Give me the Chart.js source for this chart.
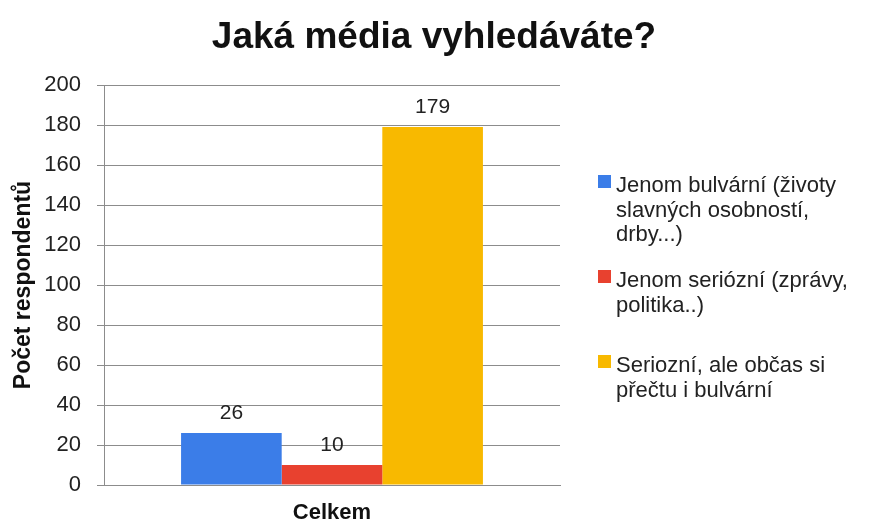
<!DOCTYPE html>
<html>
<head>
<meta charset="utf-8">
<script src="https://cdn.jsdelivr.net/npm/chart.js@4.4.1/dist/chart.umd.min.js"></script>
<style>
  html, body { margin: 0; padding: 0; background: #ffffff; }
  #wrap { width: 870px; height: 524px; }
</style>
</head>
<body>
<div id="wrap"><canvas id="c" width="870" height="524"></canvas></div>
<script>
// Survey answers: which kind of media the respondents look for
const chartTitle = 'Jaká média vyhledáváte?';
const categories = ['Celkem'];
const seriesNames = [
  ['Jenom bulvární (životy', 'slavných osobností,', 'drby...)'],
  ['Jenom seriózní (zprávy,', 'politika..)'],
  ['Seriozní, ale občas si', 'přečtu i bulvární']
];
const bulvarni = [26];
const seriozni = [10];
const oboji = [179];
const seriesColors = ['#3b7de8', '#e8412f', '#f8b900'];
const yTicks = [0, 20, 40, 60, 80, 100, 120, 140, 160, 180, 200];

const FONT = '"Liberation Sans", Arial, sans-serif';
const GRID = '#8c8c8c';
const TEXT = '#222222';

// Title centred over the whole canvas
const pageTitle = {
  id: 'pageTitle',
  afterDraw(chart) {
    const ctx = chart.ctx;
    ctx.save();
    ctx.font = 'bold 37px ' + FONT;
    ctx.fillStyle = '#111111';
    ctx.textAlign = 'center';
    ctx.textBaseline = 'alphabetic';
    ctx.fillText(chartTitle, 434, 48);
    ctx.restore();
  }
};

// Value printed above each bar
const valueLabels = {
  id: 'valueLabels',
  afterDatasetsDraw(chart) {
    const ctx = chart.ctx;
    ctx.save();
    ctx.font = '21px ' + FONT;
    ctx.fillStyle = TEXT;
    ctx.textAlign = 'center';
    ctx.textBaseline = 'alphabetic';
    chart.data.datasets.forEach((ds, i) => {
      chart.getDatasetMeta(i).data.forEach((bar, j) => {
        ctx.fillText(String(ds.data[j]), bar.x, bar.y - 14);
      });
    });
    ctx.restore();
  }
};

// Legend on the right with wrapped labels
const wrappedLegend = {
  id: 'wrappedLegend',
  afterDraw(chart) {
    const ctx = chart.ctx;
    const x0 = chart.chartArea.right + 38;
    const baselines = [192, 287, 372];
    const lineGap = 24.5;
    ctx.save();
    ctx.font = '22px ' + FONT;
    ctx.textBaseline = 'alphabetic';
    ctx.textAlign = 'left';
    chart.data.datasets.forEach((ds, i) => {
      const y = baselines[i];
      ctx.fillStyle = ds.backgroundColor;
      ctx.fillRect(x0, y - 17, 13, 13);
      ctx.fillStyle = TEXT;
      seriesNames[i].forEach((line, k) => {
        ctx.fillText(line, x0 + 18, y + k * lineGap);
      });
    });
    ctx.restore();
  }
};

new Chart(document.getElementById('c'), {
  type: 'bar',
  data: {
    labels: categories,
    datasets: [
      { label: seriesNames[0].join(' '), data: bulvarni, backgroundColor: seriesColors[0] },
      { label: seriesNames[1].join(' '), data: seriozni, backgroundColor: seriesColors[1] },
      { label: seriesNames[2].join(' '), data: oboji, backgroundColor: seriesColors[2] }
    ]
  },
  options: {
    responsive: false,
    animation: false,
    devicePixelRatio: 1,
    layout: { padding: { top: 85, left: 10, right: 310, bottom: 0 } },
    datasets: { bar: { categoryPercentage: 0.662, barPercentage: 1.0, borderWidth: 0 } },
    plugins: {
      legend: { display: false },
      tooltip: { enabled: false },
      title: { display: false }
    },
    scales: {
      x: {
        grid: { display: false, drawTicks: false },
        border: { display: true, color: GRID, width: 1 },
        ticks: {
          color: '#111111',
          padding: 15,
          font: { family: FONT, size: 22, weight: 'bold' }
        },
        afterFit(scale) { scale.height = 39; }
      },
      y: {
        min: 0,
        max: 200,
        afterBuildTicks(scale) { scale.ticks = yTicks.map(v => ({ value: v })); },
        grid: { color: GRID, lineWidth: 1, tickLength: 7, drawTicks: true, tickColor: GRID },
        border: { display: true, color: GRID, width: 1 },
        ticks: {
          color: TEXT,
          padding: 16,
          font: { family: FONT, size: 22 }
        },
        title: {
          display: true,
          text: 'Počet respondentů',
          color: '#111111',
          font: { family: FONT, size: 23, weight: 'bold' },
          padding: { top: 0, bottom: 0 }
        },
        afterFit(scale) { scale.width = 104 - 10; }
      }
    }
  },
  plugins: [valueLabels, wrappedLegend, pageTitle]
});
</script>
</body>
</html>
